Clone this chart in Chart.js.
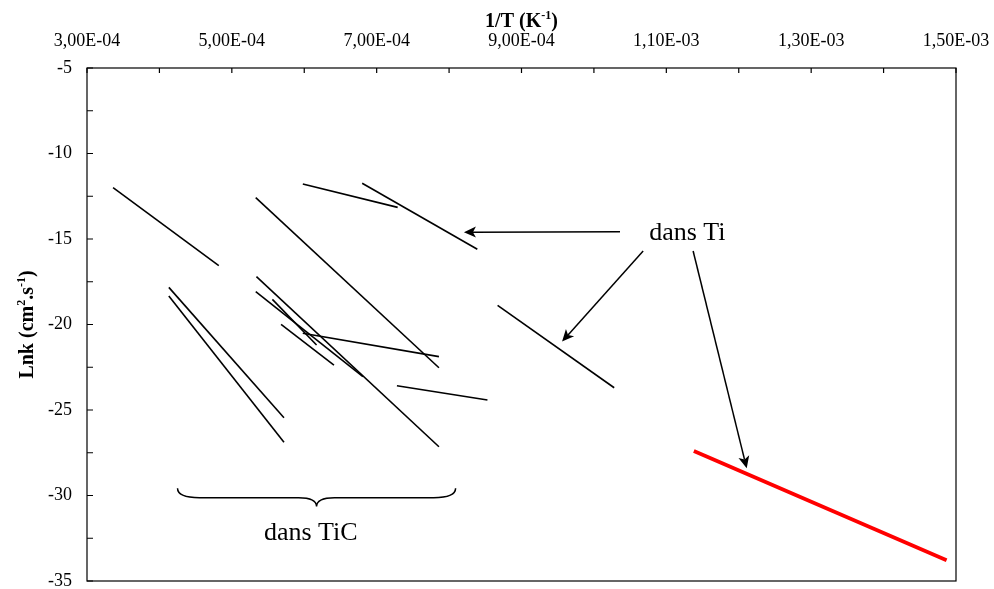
<!DOCTYPE html>
<html>
<head>
<meta charset="utf-8">
<script src="https://cdn.jsdelivr.net/npm/chart.js@4.4.1/dist/chart.umd.min.js"></script>
<style>
  html, body { margin: 0; padding: 0; background: #fff; }
  canvas { display: block; }
</style>
</head>
<body>
<canvas id="arrheniusChart" width="994" height="589"></canvas>
<script>
// literature segments: 1/T (K-1) and Lnk at both ends
const segX1 = [3.36e-4, 5.33e-4, 5.98e-4, 6.80e-4, 8.67e-4, 4.13e-4, 4.13e-4, 5.34e-4, 5.33e-4, 5.56e-4, 5.68e-4, 5.98e-4, 7.28e-4];
const segY1 = [-12.0, -12.58, -11.78, -11.74, -18.88, -17.83, -18.33, -17.2, -18.08, -18.53, -19.99, -20.51, -23.58];
const segX2 = [4.82e-4, 7.86e-4, 7.29e-4, 8.39e-4, 1.028e-3, 5.72e-4, 5.72e-4, 7.86e-4, 6.81e-4, 6.17e-4, 6.41e-4, 7.86e-4, 8.53e-4];
const segY2 = [-16.56, -22.53, -13.15, -15.6, -23.7, -25.45, -26.89, -27.15, -23.05, -21.2, -22.37, -21.88, -24.42];

// red segment (this work)
const redX = [1.138e-3, 1.487e-3];
const redY = [-27.4, -33.79];

const xTickValues = [3e-4, 5e-4, 7e-4, 9e-4, 1.1e-3, 1.3e-3, 1.5e-3];
const xTickLabels = ['3,00E-04', '5,00E-04', '7,00E-04', '9,00E-04', '1,10E-03', '1,30E-03', '1,50E-03'];
const yTickValues = [-35, -30, -25, -20, -15, -10, -5];
const yTickLabels = ['-35', '-30', '-25', '-20', '-15', '-10', '-5'];

// annotations, in data units
const arrowFrom = [[1.036e-3, -14.57], [1.068e-3, -15.70], [1.137e-3, -15.70]];
const arrowTo = [[8.205e-4, -14.6], [9.56e-4, -21.0], [1.211e-3, -28.41]];

const SERIF = "'Liberation Serif', 'Times New Roman', serif";

function labelFor(v, values, labels) {
    for (let i = 0; i < values.length; i++) {
        if (Math.abs(v - values[i]) < Math.abs(values[i]) * 1e-6) return labels[i];
    }
    return '';
}

const datasets = [];
for (let i = 0; i < segX1.length; i++) {
    datasets.push({
        data: [{ x: segX1[i], y: segY1[i] }, { x: segX2[i], y: segY2[i] }],
        borderColor: '#000',
        borderWidth: 1.6
    });
}
datasets.push({
    data: redX.map((x, i) => ({ x: x, y: redY[i] })),
    borderColor: '#ff0000',
    borderWidth: 3.8
});

// draws text made of normal and superscript parts
function drawParts(ctx, parts, size, bold) {
    const w = parts.map(p => {
        ctx.font = (bold ? 'bold ' : '') + (p.sup ? Math.round(size * 0.62) : size) + 'px ' + SERIF;
        return ctx.measureText(p.t).width;
    });
    const total = w.reduce((a, b) => a + b, 0);
    let x = -total / 2;
    parts.forEach((p, i) => {
        ctx.font = (bold ? 'bold ' : '') + (p.sup ? Math.round(size * 0.62) : size) + 'px ' + SERIF;
        ctx.fillText(p.t, x, p.sup ? -size * 0.4 : 0);
        x += w[i];
    });
}

function drawArrow(ctx, x1, y1, x2, y2) {
    const ang = Math.atan2(y2 - y1, x2 - x1);
    const len = 12, half = 5.5, notch = 9;
    const c = Math.cos(ang), s = Math.sin(ang);
    ctx.beginPath();
    ctx.moveTo(x1, y1);
    ctx.lineTo(x2 - c * notch, y2 - s * notch);
    ctx.stroke();
    ctx.beginPath();
    ctx.moveTo(x2, y2);
    ctx.lineTo(x2 - c * len + s * half, y2 - s * len - c * half);
    ctx.lineTo(x2 - c * notch, y2 - s * notch);
    ctx.lineTo(x2 - c * len - s * half, y2 - s * len + c * half);
    ctx.closePath();
    ctx.fill();
}

const framePlugin = {
    id: 'frame',
    afterDraw(chart) {
        const ctx = chart.ctx;
        const a = chart.chartArea;
        const xs = chart.scales.x, ys = chart.scales.y;
        ctx.save();
        ctx.strokeStyle = '#000';
        ctx.fillStyle = '#000';
        ctx.lineWidth = 1.2;
        ctx.strokeRect(a.left, a.top, a.right - a.left, a.bottom - a.top);

        // inward tick marks
        ctx.beginPath();
        xs.ticks.forEach(t => {
            const px = xs.getPixelForValue(t.value);
            ctx.moveTo(px, a.top);
            ctx.lineTo(px, a.top + 5);
        });
        ys.ticks.forEach(t => {
            const py = ys.getPixelForValue(t.value);
            ctx.moveTo(a.left, py);
            ctx.lineTo(a.left + 6, py);
        });
        ctx.stroke();

        // axis titles
        ctx.textAlign = 'left';
        ctx.textBaseline = 'alphabetic';
        ctx.save();
        ctx.translate((a.left + a.right) / 2, 27);
        drawParts(ctx, [{ t: '1/T (K' }, { t: '-1', sup: true }, { t: ')' }], 20, true);
        ctx.restore();
        ctx.save();
        ctx.translate(33, (a.top + a.bottom) / 2);
        ctx.rotate(-Math.PI / 2);
        drawParts(ctx, [{ t: 'Lnk (cm' }, { t: '2', sup: true }, { t: '.s' }, { t: '-1', sup: true }, { t: ')' }], 20, true);
        ctx.restore();

        // arrows
        ctx.lineWidth = 1.5;
        for (let i = 0; i < arrowFrom.length; i++) {
            drawArrow(ctx,
                xs.getPixelForValue(arrowFrom[i][0]), ys.getPixelForValue(arrowFrom[i][1]),
                xs.getPixelForValue(arrowTo[i][0]), ys.getPixelForValue(arrowTo[i][1]));
        }

        // labels
        ctx.font = '26px ' + SERIF;
        ctx.textAlign = 'center';
        ctx.textBaseline = 'middle';
        ctx.fillText('dans Ti', xs.getPixelForValue(1.129e-3), ys.getPixelForValue(-14.65));
        ctx.fillText('dans TiC', xs.getPixelForValue(6.09e-4), ys.getPixelForValue(-32.19));

        // curly brace over the TiC group
        const bx1 = xs.getPixelForValue(4.25e-4), bx2 = xs.getPixelForValue(8.09e-4);
        const by0 = ys.getPixelForValue(-29.58), by1 = ys.getPixelForValue(-30.13), by2 = ys.getPixelForValue(-30.65);
        const cx = (bx1 + bx2) / 2;
        ctx.lineWidth = 1.5;
        ctx.beginPath();
        ctx.moveTo(bx1, by0);
        ctx.quadraticCurveTo(bx1, by1, bx1 + 22, by1);
        ctx.lineTo(cx - 18, by1);
        ctx.quadraticCurveTo(cx, by1, cx, by2);
        ctx.quadraticCurveTo(cx, by1, cx + 18, by1);
        ctx.lineTo(bx2 - 22, by1);
        ctx.quadraticCurveTo(bx2, by1, bx2, by0);
        ctx.stroke();
        ctx.restore();
    }
};

new Chart(document.getElementById('arrheniusChart').getContext('2d'), {
    type: 'scatter',
    data: { datasets: datasets },
    options: {
        responsive: false,
        animation: false,
        devicePixelRatio: 1,
        showLine: true,
        elements: { point: { radius: 0, hoverRadius: 0 }, line: { tension: 0 } },
        layout: { padding: { top: 0, left: 0, right: 38, bottom: 8 } },
        plugins: { legend: { display: false }, tooltip: { enabled: false } },
        scales: {
            x: {
                type: 'linear',
                position: 'top',
                min: 3e-4,
                max: 1.5e-3,
                grid: { display: false, drawTicks: false },
                border: { display: false },
                ticks: {
                    stepSize: 1e-4,
                    autoSkip: false,
                    maxRotation: 0,
                    padding: 16,
                    color: '#000',
                    font: { family: SERIF, size: 18 },
                    callback: v => labelFor(v, xTickValues, xTickLabels)
                },
                afterFit: s => { s.height = 68; s.paddingLeft = 0; s.paddingRight = 0; }
            },
            y: {
                min: -35,
                max: -5,
                grid: { display: false, drawTicks: false },
                border: { display: false },
                ticks: {
                    stepSize: 2.5,
                    autoSkip: false,
                    padding: 15,
                    color: '#000',
                    font: { family: SERIF, size: 18 },
                    callback: v => labelFor(v, yTickValues, yTickLabels)
                },
                afterFit: s => { s.width = 87; s.paddingTop = 0; s.paddingBottom = 0; }
            }
        }
    },
    plugins: [framePlugin]
});
</script>
</body>
</html>
